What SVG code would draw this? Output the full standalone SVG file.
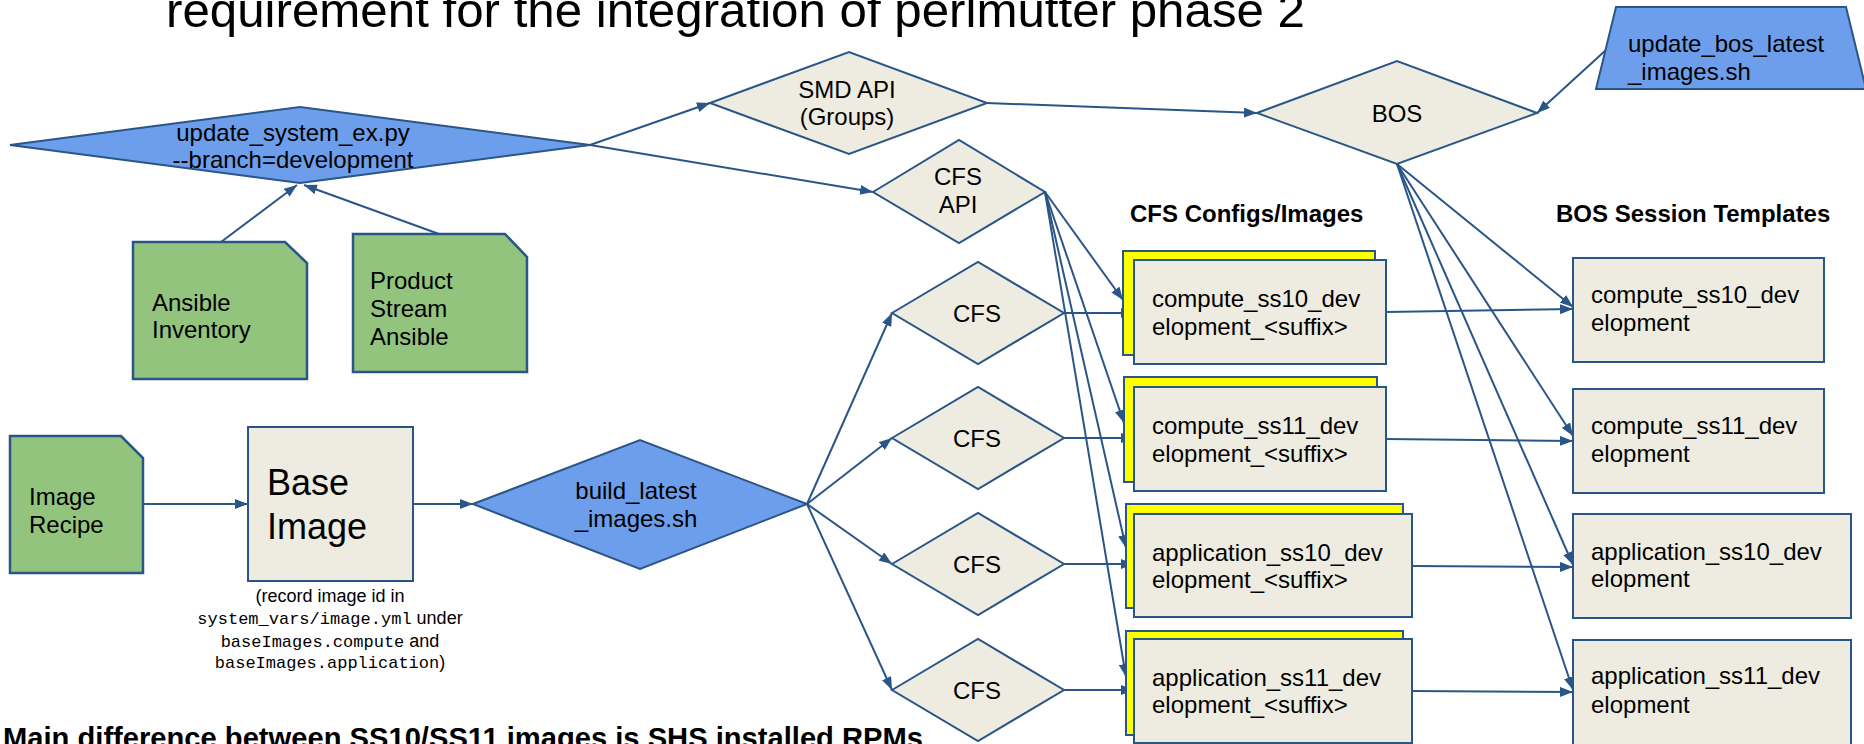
<svg xmlns="http://www.w3.org/2000/svg" width="1864" height="744" viewBox="0 0 1864 744">
<defs>
<marker id="arr" markerUnits="userSpaceOnUse" markerWidth="14" markerHeight="10" refX="13" refY="5" orient="auto"><path d="M0,0 L13,5 L0,10 z" fill="#2a5687"/></marker>
</defs>
<style>
.t{font-family:"Liberation Sans",Arial,sans-serif;fill:#000;font-size:24px}
.b{font-weight:bold}
.m{font-family:"Liberation Mono","DejaVu Sans Mono",monospace;font-size:17px}
.blue{fill:#6d9eeb;stroke:#2a5687;stroke-width:2}
.green{fill:#93c47d;stroke:#2a5687;stroke-width:2.5}
.tan{fill:#eeece1;stroke:#2a5687;stroke-width:2}
.yel{fill:#ffff00;stroke:#2a5687;stroke-width:2}
#connectors line{stroke:#2a5687;stroke-width:2;marker-end:url(#arr)}
</style>
<rect width="1864" height="744" fill="#ffffff"/>

<text class="t" x="166" y="27" style="font-size:49px" textLength="1139" lengthAdjust="spacingAndGlyphs">requirement for the integration of perlmutter phase 2</text>
<text class="t b" x="3" y="748" style="font-size:29px" textLength="920" lengthAdjust="spacingAndGlyphs">Main difference between SS10/SS11 images is SHS installed RPMs</text>

<g id="connectors">
<line x1="221" y1="242" x2="297" y2="185"/>
<line x1="439" y1="234" x2="304" y2="185"/>
<line x1="590" y1="145" x2="710" y2="103"/>
<line x1="590" y1="145" x2="873" y2="192"/>
<line x1="987" y1="103" x2="1257" y2="113"/>
<line x1="1606" y1="50" x2="1537" y2="113"/>
<line x1="143" y1="504" x2="248" y2="504"/>
<line x1="413" y1="504" x2="473" y2="504"/>
<line x1="807" y1="504" x2="892" y2="313"/>
<line x1="807" y1="504" x2="892" y2="438"/>
<line x1="807" y1="504" x2="892" y2="564"/>
<line x1="807" y1="504" x2="892" y2="690"/>
<line x1="1064" y1="313" x2="1134" y2="313"/>
<line x1="1064" y1="438" x2="1134" y2="438"/>
<line x1="1064" y1="564" x2="1134" y2="564"/>
<line x1="1064" y1="690" x2="1134" y2="690"/>
<line x1="1045" y1="192" x2="1123" y2="300"/>
<line x1="1045" y1="192" x2="1124" y2="423"/>
<line x1="1045" y1="192" x2="1126" y2="548"/>
<line x1="1045" y1="192" x2="1126" y2="677"/>
<line x1="1386" y1="312" x2="1573" y2="309"/>
<line x1="1386" y1="439" x2="1573" y2="441"/>
<line x1="1412" y1="566" x2="1573" y2="567"/>
<line x1="1412" y1="691" x2="1573" y2="692"/>
<line x1="1397" y1="164" x2="1573" y2="307"/>
<line x1="1397" y1="164" x2="1573" y2="436"/>
<line x1="1397" y1="164" x2="1573" y2="565"/>
<line x1="1397" y1="164" x2="1573" y2="690"/>
</g>

<g id="update_system">
<polygon class="blue" points="10,145 300,107 590,145 300,183"/>
<text class="t" x="293" y="141" text-anchor="middle">update_system_ex.py</text>
<text class="t" x="293" y="168" text-anchor="middle">--branch=development</text>
</g>

<g id="ansible_inventory">
<path class="green" d="M133,242 H285 L307,263 V379 H133 Z"/>
<text class="t" x="152" y="311">Ansible</text>
<text class="t" x="152" y="338">Inventory</text>
</g>

<g id="product_stream">
<path class="green" d="M353,234 H505 L527,257 V372 H353 Z"/>
<text class="t" x="370" y="289">Product</text>
<text class="t" x="370" y="317">Stream</text>
<text class="t" x="370" y="345">Ansible</text>
</g>

<g id="image_recipe">
<path class="green" d="M10,436 H121 L143,458 V573 H10 Z"/>
<text class="t" x="29" y="505">Image</text>
<text class="t" x="29" y="533">Recipe</text>
</g>

<g id="base_image">
<rect class="tan" x="248" y="427" width="165" height="154"/>
<text class="t" x="267" y="495" style="font-size:36px">Base</text>
<text class="t" x="267" y="539" style="font-size:36px">Image</text>
<text class="t" x="330" y="602" text-anchor="middle" style="font-size:18px">(record image id in</text>
<text class="t" x="330" y="624" text-anchor="middle" style="font-size:18px"><tspan class="m">system_vars/image.yml</tspan> under</text>
<text class="t" x="330" y="647" text-anchor="middle" style="font-size:18px"><tspan class="m">baseImages.compute</tspan> and</text>
<text class="t" x="330" y="668" text-anchor="middle" style="font-size:18px"><tspan class="m">baseImages.application</tspan>)</text>
</g>

<g id="build_latest">
<polygon class="blue" points="473,504 640,440 807,504 640,569"/>
<text class="t" x="636" y="499" text-anchor="middle">build_latest</text>
<text class="t" x="636" y="527" text-anchor="middle">_images.sh</text>
</g>

<g id="smd_api">
<polygon class="tan" points="710,103 849,52 987,103 849,154"/>
<text class="t" x="847" y="98" text-anchor="middle">SMD API</text>
<text class="t" x="847" y="125" text-anchor="middle">(Groups)</text>
</g>

<g id="cfs_api">
<polygon class="tan" points="873,192 959,140 1045,192 959,243"/>
<text class="t" x="958" y="185" text-anchor="middle">CFS</text>
<text class="t" x="958" y="213" text-anchor="middle">API</text>
</g>

<g id="bos">
<polygon class="tan" points="1257,113 1397,61 1537,113 1397,164"/>
<text class="t" x="1397" y="122" text-anchor="middle">BOS</text>
</g>

<g id="update_bos">
<polygon class="blue" points="1616,7 1846,7 1866,89 1596,89"/>
<text class="t" x="1628" y="52">update_bos_latest</text>
<text class="t" x="1628" y="80">_images.sh</text>
</g>

<g id="cfs1">
<polygon class="tan" points="892,313 978,262 1064,313 978,364"/>
<text class="t" x="977" y="322" text-anchor="middle">CFS</text>
</g>
<g id="cfs2">
<polygon class="tan" points="892,438 978,387 1064,438 978,489"/>
<text class="t" x="977" y="447" text-anchor="middle">CFS</text>
</g>
<g id="cfs3">
<polygon class="tan" points="892,564 978,513 1064,564 978,615"/>
<text class="t" x="977" y="573" text-anchor="middle">CFS</text>
</g>
<g id="cfs4">
<polygon class="tan" points="892,690 978,639 1064,690 978,741"/>
<text class="t" x="977" y="699" text-anchor="middle">CFS</text>
</g>

<text id="cfs_heading" class="t b" x="1130" y="222">CFS Configs/Images</text>
<text id="bos_heading" class="t b" x="1556" y="222">BOS Session Templates</text>

<g id="config_compute_ss10">
<rect class="yel" x="1123" y="251" width="252" height="104"/>
<rect class="tan" x="1134" y="260" width="252" height="104"/>
<text class="t" x="1152" y="307">compute_ss10_dev</text>
<text class="t" x="1152" y="335">elopment_&lt;suffix&gt;</text>
</g>
<g id="config_compute_ss11">
<rect class="yel" x="1124" y="377" width="253" height="105"/>
<rect class="tan" x="1134" y="387" width="252" height="104"/>
<text class="t" x="1152" y="434">compute_ss11_dev</text>
<text class="t" x="1152" y="462">elopment_&lt;suffix&gt;</text>
</g>
<g id="config_application_ss10">
<rect class="yel" x="1126" y="504" width="277" height="104"/>
<rect class="tan" x="1134" y="514" width="278" height="103"/>
<text class="t" x="1152" y="561">application_ss10_dev</text>
<text class="t" x="1152" y="588">elopment_&lt;suffix&gt;</text>
</g>
<g id="config_application_ss11">
<rect class="yel" x="1126" y="631" width="277" height="104"/>
<rect class="tan" x="1134" y="639" width="278" height="104"/>
<text class="t" x="1152" y="686">application_ss11_dev</text>
<text class="t" x="1152" y="713">elopment_&lt;suffix&gt;</text>
</g>

<g id="bst_compute_ss10">
<rect class="tan" x="1573" y="258" width="251" height="104"/>
<text class="t" x="1591" y="303">compute_ss10_dev</text>
<text class="t" x="1591" y="331">elopment</text>
</g>
<g id="bst_compute_ss11">
<rect class="tan" x="1573" y="389" width="251" height="104"/>
<text class="t" x="1591" y="434">compute_ss11_dev</text>
<text class="t" x="1591" y="462">elopment</text>
</g>
<g id="bst_application_ss10">
<rect class="tan" x="1573" y="514" width="278" height="104"/>
<text class="t" x="1591" y="560">application_ss10_dev</text>
<text class="t" x="1591" y="587">elopment</text>
</g>
<g id="bst_application_ss11">
<rect class="tan" x="1573" y="640" width="278" height="110"/>
<text class="t" x="1591" y="684">application_ss11_dev</text>
<text class="t" x="1591" y="713">elopment</text>
</g>
</svg>
